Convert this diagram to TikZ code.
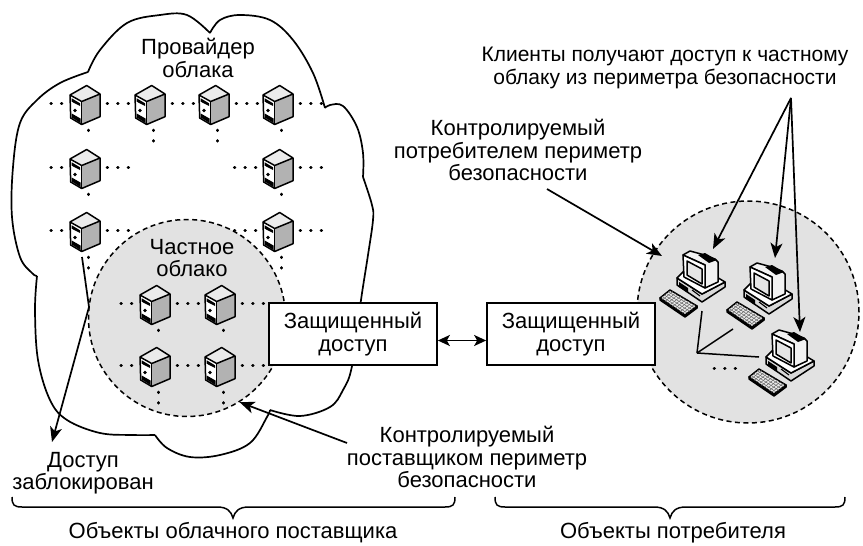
\documentclass[tikz,border=0pt]{standalone}
\usepackage{fontspec}
\setmainfont{Liberation Sans}
\usetikzlibrary{arrows.meta,calc}

\definecolor{zonegray}{HTML}{E2E2E2}
\definecolor{sidegray}{HTML}{B2B2B2}

\tikzset{
  label text/.style={align=center,inner sep=0pt,font=\fontsize{22}{22.4}\selectfont},
  access box/.style={draw,line width=1.7pt,fill=white,minimum width=168pt,minimum height=62pt,
    inner sep=0pt,align=center,font=\fontsize{22}{22.4}\selectfont},
  perimeter/.style={circle,draw,fill=zonegray,line width=1.5pt,dash pattern=on 5pt off 3.5pt,inner sep=0pt},
  server box/.style={minimum width=30pt,minimum height=46pt,inner sep=0pt},
  dots/.style={line width=3pt,line cap=round,dash pattern=on 0.5pt off 10pt,shorten <=4pt,shorten >=4pt},
  pointer/.style={line width=1.7pt,-{Stealth[length=15pt,width=12pt,inset=4pt]}},
  wire/.style={line width=1.5pt},
  outline/.style={line width=1.5pt,line join=round},
  pics/server/.style={code={
    \node[server box] (#1) {};
    \fill[white] (-18,-8) -- (-6.3,-1.5) -- (-6.3,21.5) -- (-17.3,15) -- cycle;
    \fill[sidegray] (-6.3,-1.5) -- (12,-9) -- (12,13.7) -- (-6.3,21.5) -- cycle;
    \fill[black!8] (-1.3,-17.5) -- (12,-9) -- (-6.3,-1.5) -- (-18,-8) -- cycle;
    \fill (-16.3,-4.7) -- (-8,0.3) -- (-8,3) -- (-16.3,-1.3) -- cycle;
    \fill (-13,7.5) circle (1.8);
    \fill (-16.3,10.5) -- (-7.5,15.5) -- (-7.5,20) -- (-16.3,14.5) -- cycle;
    \draw[outline] (-1.3,-17.5) -- (12,-9) -- (12,13.7) -- (-6.3,21.5) -- (-17.3,15) -- (-18,-8) -- cycle;
    \draw[outline] (-18,-8) -- (-6.3,-1.5) -- (12,-9);
    \draw[outline,line width=1.1pt] (-6.3,-1.5) -- (-6.3,21.5);
  }},
  pics/computer/.style={code={
    \node[inner sep=0pt,minimum size=64pt] (#1) at (32,32) {};
    % base
    \draw[outline,fill=black!15] (17,28) -- (17,35) -- (42,52) -- (65,37) -- (65,32) -- (42,44) -- cycle;
    \draw[outline,fill=white] (17,28) -- (42,44) -- (65,32) -- (55,26) -- (25,20) -- cycle;
    \fill (19,32) -- (28,38) -- (28,43) -- (19,37) -- cycle;
    \draw[line width=1.1pt] (32,40) -- (40,46);
    % keyboard
    \draw[outline,fill=black!35] (0,48) -- (0,50) -- (25,67) -- (37,58) -- (37,56) -- (25,65) -- cycle;
    \draw[outline,fill=black!8] (0,48) -- (10,40) -- (37,56) -- (25,65) -- cycle;
    \foreach \t in {0.2,0.4,...,0.81}
      \draw[line width=0.5pt,black!60] ($(0,48)!\t!(10,40)$) -- ($(25,65)!\t!(37,56)$);
    \foreach \t in {0.1,0.2,...,0.91}
      \draw[line width=0.5pt,black!60] ($(0,48)!\t!(25,65)$) -- ($(10,40)!\t!(37,56)$);
    % monitor
    \draw[outline,fill=black!5] (23,5) -- (30,1) -- (41,4) -- (55,9) -- (58,12) -- (58,32) -- (45,38) -- (45,15) -- cycle;
    \draw[outline,fill=white] (23,5) -- (24,27) -- (45,38) -- (45,15) -- cycle;
    \draw[outline,fill=black!10] (27,11) -- (42,19) -- (42,34) -- (27,25) -- cycle;
    \fill (38,5) -- (45,3) -- (57,10) -- (49,13) -- cycle;
  }},
}

\newcommand{\bracepath}[4]{% left, middle, right, y
  \draw[line width=1.5pt] (#1,497) .. controls (#1,505) and (#1+2,#4) .. (#1+10,#4)
    -- (#2-16,#4) .. controls (#2-6,#4) and (#2-2,#4+4) .. (#2,518)
    .. controls (#2+2,#4+4) and (#2+6,#4) .. (#2+16,#4)
    -- (#3-10,#4) .. controls (#3-2,#4) and (#3,505) .. (#3,497);
}

\begin{document}
\begin{tikzpicture}[x=1pt,y=-1pt]
  \useasboundingbox (0,0) rectangle (863,546);

  % provider cloud
  \draw[line width=1.7pt,line join=miter]
    plot[smooth,tension=0.6] coordinates {(88,72) (100,50) (127,23) (160,15) (187,15) (210,33)}
    plot[smooth,tension=0.6] coordinates {(210,33) (220,20) (240,15) (270,20) (293,40) (313,73) (325,108)}
    plot[smooth,tension=0.6] coordinates {(325,108) (330,105) (343,106) (357,127) (363,153) (363,177)}
    plot[smooth,tension=0.6] coordinates {(363,177) (372,205) (373,220) (368,255) (361,300) (352,366) (343,390) (330,407) (300,416) (270,410)}
    plot[smooth,tension=0.6] coordinates {(270,410) (267,417) (250,443) (220,455) (190,457) (167,448) (155,435)}
    plot[smooth,tension=0.6] coordinates {(155,435) (133,435) (100,433) (67,420) (50,400) (38,360) (35,310) (37,276)}
    plot[smooth,tension=0.6] coordinates {(37,276) (32,273) (20,257) (12,217) (13,167) (20,123) (37,100) (60,83) (88,72)};

  \node[perimeter,minimum size=197pt] (private) at (187,318) {};
  \node[perimeter,minimum size=222pt] (consumer) at (748,312) {};

  % servers in the cloud
  \pic at (88,103)  {server=s11};
  \pic at (153,103) {server=s12};
  \pic at (217,103) {server=s13};
  \pic at (281,103) {server=s14};
  \pic at (88,167)  {server=s21};
  \pic at (281,167) {server=s24};
  \pic at (88,230)  {server=s31};
  \pic at (281,230) {server=s34};
  \pic at (158,303) {server=p11};
  \pic at (223,303) {server=p12};
  \pic at (158,365) {server=p21};
  \pic at (223,365) {server=p22};

  \foreach \a/\b in {s11/s12,s12/s13,s13/s14,p11/p12,p21/p22,s11/s21,s21/s31,s14/s24,s24/s34,p11/p21,p12/p22}
    \draw[dots] (\a) -- (\b);
  \foreach \a in {s11,s21,s31,p11,p21}
    \draw[dots,shorten <=11pt] (\a.west) -- ++(-36,0);
  \foreach \a in {s14,s24,s34,s21,s31,p12,p22}
    \draw[dots] (\a.east) -- ++(30,0);
  \foreach \a in {s24,s34}
    \draw[dots,shorten <=10pt] (\a.west) -- ++(-36,0);
  \foreach \a in {s12,s13,s31,s34,p21,p22}
    \draw[dots] (\a.south) -- ++(0,24);

  % computers
  \pic at (660,250) {computer=pc1};
  \pic at (727,262) {computer=pc2};
  \pic at (749,329) {computer=pc3};

  \coordinate (hub) at (697,353);
  \coordinate (pc1 wire) at (702,311);
  \coordinate (pc2 wire) at (733,329);
  \coordinate (pc3 wire) at (759,357);
  \draw[wire] (pc1 wire) -- (hub);
  \draw[wire] (pc2 wire) -- (hub);
  \draw[wire] (pc3 wire) -- (hub);
  \draw[dots,shorten <=0pt,shorten >=0pt] (714,368) -- (736.5,368);

  \node[access box] (secure left)  at (353,334) {Защищенный\\доступ};
  \node[access box] (secure right) at (571,334) {Защищенный\\доступ};
  \draw[line width=1.7pt,{Stealth[length=12pt,width=11pt,inset=3pt]}-{Stealth[length=12pt,width=11pt,inset=3pt]}]
    (secure left.east) ++(0,6.5) -- ($(secure right.west)+(0,6.5)$);

  % labels
  \node[label text] (provider label) at (198,58)  {Провайдер\\облака};
  \node[label text] (private label)  at (192,258) {Частное\\облако};
  \node[label text,font=\fontsize{21}{22.4}\selectfont] (clients label) at (665,68)
    {Клиенты получают доступ к частному\\облаку из периметра безопасности};
  \node[label text] (consumer label) at (518,150) {Контролируемый\\потребителем периметр\\безопасности};
  \node[label text] (supplier label) at (467,457) {Контролируемый\\поставщиком периметр\\безопасности};
  \node[label text] (blocked label)  at (83,473)  {Доступ\\заблокирован};
  \node[label text] (supplier side)  at (233,533) {Объекты облачного поставщика};
  \node[label text] (consumer side)  at (673,533) {Объекты потребителя};

  % arrows
  \coordinate (clients apex) at (791,98);
  \coordinate (tip a) at (713,249);
  \coordinate (tip b) at (775,258);
  \coordinate (tip c) at (800,332);
  \draw[pointer] (clients apex) -- (tip a);
  \draw[pointer] (clients apex) -- (tip b);
  \draw[pointer] (clients apex) -- (tip c);

  \coordinate (consumer start) at (547,189);
  \coordinate (consumer tip) at (662,256);
  \draw[pointer] (consumer start) -- (consumer tip);

  \coordinate (supplier start) at (347,443);
  \draw[pointer] (supplier start) -- (private.-58);

  \coordinate (blocked start) at (82,257);
  \coordinate (blocked bend) at (89,307);
  \coordinate (blocked tip) at (52,442);
  \draw[pointer] (blocked start) -- (blocked bend) -- (blocked tip);

  % braces
  \bracepath{12}{233}{455}{507}
  \bracepath{495}{670}{845}{507}
\end{tikzpicture}
\end{document}
